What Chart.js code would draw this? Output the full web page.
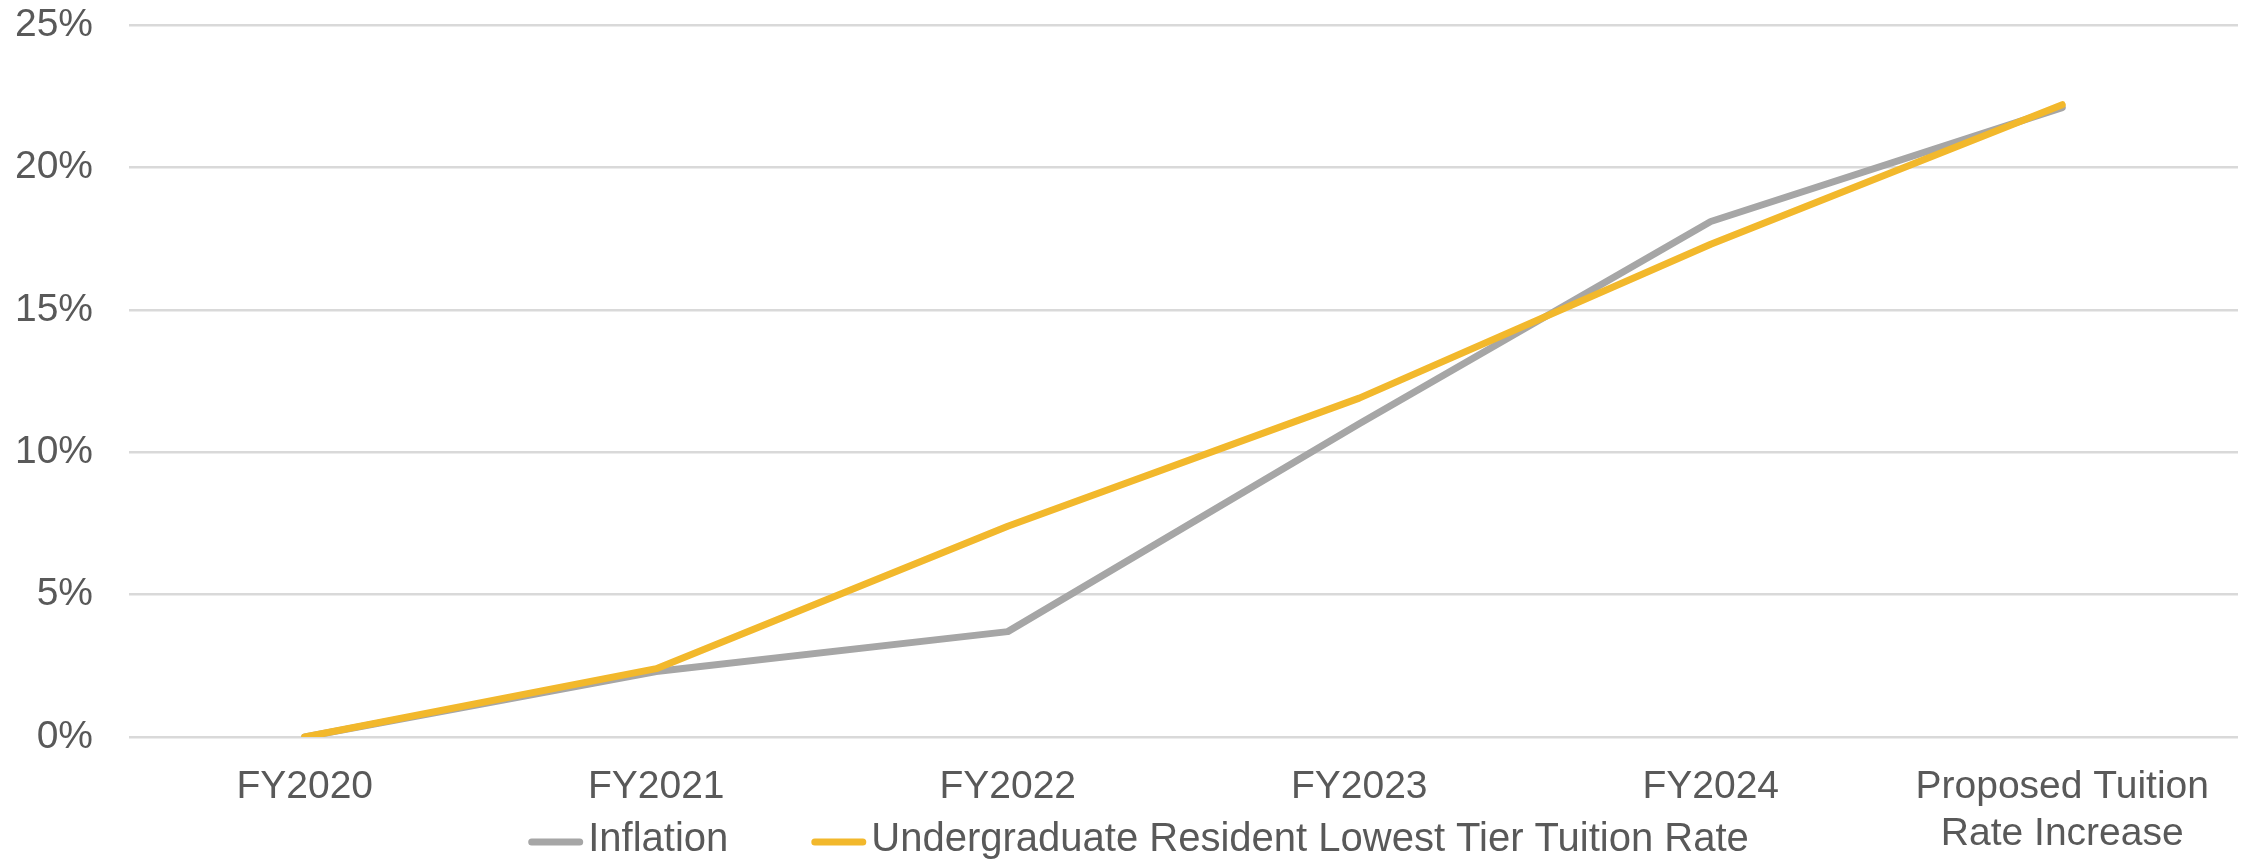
<!DOCTYPE html>
<html>
<head>
<meta charset="utf-8">
<script src="https://cdn.jsdelivr.net/npm/chart.js@4/dist/chart.umd.min.js"></script>
<style>
  html, body { margin: 0; padding: 0; background: #fff; }
  canvas { display: block; }
</style>
</head>
<body>
<canvas id="chart" width="2247" height="864"></canvas>
<script>
// Data
const categories = ['FY2020', 'FY2021', 'FY2022', 'FY2023', 'FY2024', ['Proposed Tuition', 'Rate Increase']];
const inflation = [0, 2.3, 3.7, 11.0, 18.1, 22.1];
const tuition = [0, 2.4, 7.4, 11.9, 17.3, 22.2];
const yTicks = [0, 5, 10, 15, 20, 25];

const FONT = '"Liberation Sans", Arial, sans-serif';
const TEXT = '#595959';

// Legend drawn under the plot, marker right next to the text (like Excel)
const bottomLegend = {
  id: 'bottomLegend',
  afterDraw(chart) {
    const ctx = chart.ctx;
    const sets = chart.data.datasets;
    const markerW = 55, gap = 5, spacing = 83;
    ctx.save();
    ctx.font = '40px ' + FONT;
    const widths = sets.map(ds => markerW + gap + ctx.measureText(ds.label).width);
    const total = widths.reduce((a, b) => a + b, 0) + spacing * (sets.length - 1);
    let x = (chart.width - total) / 2 + 15;
    const y = 840;
    sets.forEach((ds, i) => {
      ctx.strokeStyle = ds.borderColor;
      ctx.lineWidth = 7;
      ctx.lineCap = 'round';
      ctx.beginPath();
      ctx.moveTo(x + 3.5, y + 2);
      ctx.lineTo(x + markerW - 3.5, y + 2);
      ctx.stroke();
      ctx.fillStyle = TEXT;
      ctx.textBaseline = 'middle';
      ctx.textAlign = 'left';
      ctx.fillText(ds.label, x + markerW + gap, y);
      x += widths[i] + spacing;
    });
    ctx.restore();
  }
};

new Chart(document.getElementById('chart'), {
  type: 'line',
  data: {
    labels: categories,
    datasets: [
      {
        label: 'Inflation',
        data: inflation,
        borderColor: '#A6A6A6',
        backgroundColor: '#A6A6A6',
        borderWidth: 7,
        borderCapStyle: 'round',
        borderJoinStyle: 'round',
        pointRadius: 0,
        tension: 0,
        order: 2
      },
      {
        label: 'Undergraduate Resident Lowest Tier Tuition Rate',
        data: tuition,
        borderColor: '#F2B82C',
        backgroundColor: '#F2B82C',
        borderWidth: 7,
        borderCapStyle: 'round',
        borderJoinStyle: 'round',
        pointRadius: 0,
        tension: 0,
        order: 1
      }
    ]
  },
  options: {
    responsive: false,
    devicePixelRatio: 1,
    animation: false,
    layout: { padding: { top: 25, right: 9, bottom: 0, left: 0 } },
    plugins: {
      legend: { display: false },
      tooltip: { enabled: false }
    },
    scales: {
      x: {
        offset: true,
        grid: { display: false },
        border: { display: false },
        ticks: {
          color: TEXT,
          font: { family: FONT, size: 39 },
          padding: 19,
          maxRotation: 0,
          autoSkip: false
        },
        afterFit(scale) {
          scale.height = 127;
          scale.paddingLeft = 0;
          scale.paddingRight = 0;
        }
      },
      y: {
        min: 0,
        max: 25,
        afterBuildTicks(scale) { scale.ticks = yTicks.map(v => ({ value: v })); },
        grid: { color: '#D9D9D9', lineWidth: 2.5, drawTicks: false },
        border: { display: false },
        ticks: {
          color: TEXT,
          font: { family: FONT, size: 39 },
          padding: 36,
          callback: v => v + '%'
        },
        afterFit(scale) {
          scale.width = 129;
          scale.paddingTop = 0;
          scale.paddingBottom = 0;
        }
      }
    }
  },
  plugins: [bottomLegend]
});
</script>
</body>
</html>
